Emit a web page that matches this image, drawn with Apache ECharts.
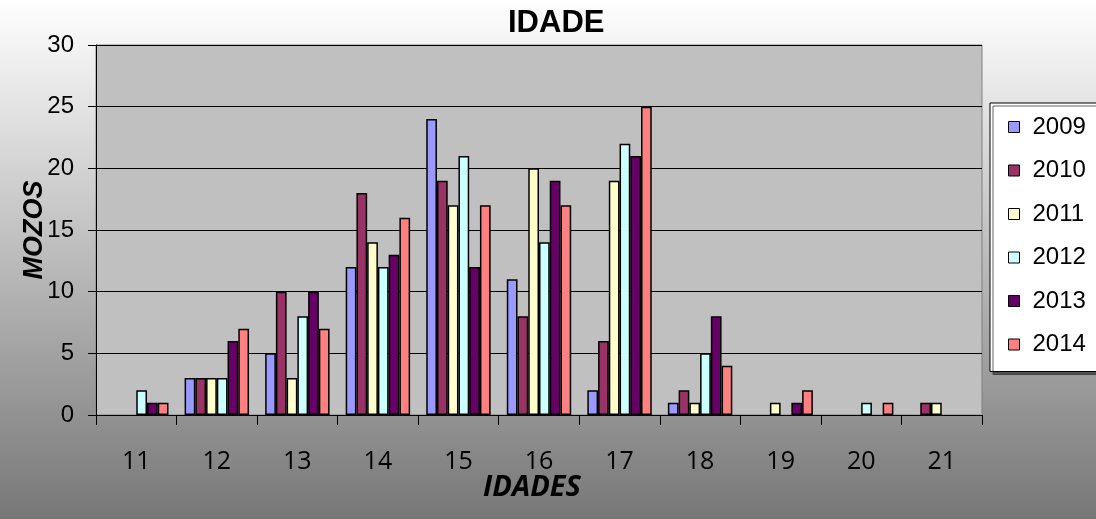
<!DOCTYPE html>
<html>
<head>
<meta charset="utf-8">
<script src="https://cdn.jsdelivr.net/npm/echarts@6/dist/echarts.min.js"></script>
<style>
  html, body { margin: 0; padding: 0; }
  #chart { width: 1096px; height: 519px; }
</style>
</head>
<body>
<div id="chart"></div>
<script>
// ages on the x axis
const ages = ['11', '12', '13', '14', '15', '16', '17', '18', '19', '20', '21']

// one array per year
const y2009 = [0, 3, 5, 12, 24, 11, 2, 1, 0, 0, 0]
const y2010 = [0, 3, 10, 18, 19, 8, 6, 2, 0, 0, 1]
const y2011 = [0, 3, 3, 14, 17, 20, 19, 1, 1, 0, 1]
const y2012 = [2, 3, 8, 12, 21, 14, 22, 5, 0, 1, 0]
const y2013 = [1, 6, 10, 13, 12, 19, 21, 8, 1, 0, 0]
const y2014 = [1, 7, 7, 16, 17, 17, 25, 4, 2, 1, 0]

const years = ['2009', '2010', '2011', '2012', '2013', '2014']
const yearData = [y2009, y2010, y2011, y2012, y2013, y2014]
const colors = ['#9999ff', '#993366', '#ffffcc', '#ccffff', '#660066', '#ff8080']

const chart = echarts.init(document.getElementById('chart'))

// zero bars are not drawn at all in the original (no border line on the axis)
const series = years.map((name, i) => ({
  name: name,
  type: 'bar',
  data: yearData[i].map(v => (v === 0 ? '-' : v)),
  barGap: '0%',
  barCategoryGap: '20%',
  itemStyle: { color: colors[i], borderColor: '#000', borderWidth: 1.5 }
}))

chart.setOption({
  animation: false,
  backgroundColor: {
    type: 'linear', x: 0, y: 0, x2: 0, y2: 1,
    colorStops: [
      { offset: 0, color: '#ffffff' },
      { offset: 1, color: '#777777' }
    ]
  },
  textStyle: { fontFamily: 'Liberation Sans' },
  title: {
    text: 'IDADE',
    left: 503,
    top: 3,
    textStyle: { fontSize: 31, fontWeight: 'bold', color: '#000', fontFamily: 'Liberation Sans' }
  },
  legend: {
    orient: 'vertical',
    left: 990,
    top: 103,
    width: 103,
    padding: [12, 14, 15, 18],
    itemGap: 19.5,
    itemWidth: 11,
    itemHeight: 11,
    icon: 'rect',
    backgroundColor: '#ffffff',
    borderColor: '#000',
    borderWidth: 1,
    shadowColor: 'rgba(60,60,60,0.8)',
    shadowOffsetX: 3,
    shadowOffsetY: 3,
    shadowBlur: 0,
    itemStyle: { borderColor: '#000', borderWidth: 1 },
    textStyle: { fontSize: 24, color: '#000', padding: [0, 0, 0, 8], fontFamily: 'Liberation Sans' },
    data: years
  },
  grid: {
    left: 96, right: 114, top: 45, bottom: 104,
    show: true,
    backgroundColor: '#c0c0c0',
    borderColor: '#808080',
    borderWidth: 1
  },
  xAxis: {
    type: 'category',
    data: ages,
    name: 'IDADES',
    nameLocation: 'middle',
    nameGap: 58,
    nameMoveOverlap: false,
    nameTextStyle: { fontSize: 29, fontWeight: 'bold', fontStyle: 'italic', color: '#000', fontFamily: 'Open Sans', padding: [0, 14, 0, 0] },
    axisLine: { lineStyle: { color: '#000', width: 1 } },
    axisTick: { show: true, alignWithLabel: false, length: 10, lineStyle: { color: '#000' } },
    axisLabel: { fontSize: 25, color: '#000', margin: 34, fontFamily: 'Open Sans' }
  },
  yAxis: {
    type: 'value',
    min: 0, max: 30, interval: 5,
    name: 'MOZOS',
    nameLocation: 'middle',
    nameRotate: 90,
    nameGap: 48,
    nameMoveOverlap: false,
    nameTextStyle: { fontSize: 27, fontWeight: 'bold', fontStyle: 'italic', color: '#000', fontFamily: 'Liberation Sans' },
    axisLine: { show: true, lineStyle: { color: '#000', width: 1 } },
    axisTick: { show: true, length: 8, lineStyle: { color: '#000' } },
    axisLabel: { fontSize: 24, color: '#000', margin: 22, fontFamily: 'Liberation Sans' },
    splitLine: { lineStyle: { color: '#000', width: 1 } }
  },
  series: series
})
</script>
</body>
</html>
